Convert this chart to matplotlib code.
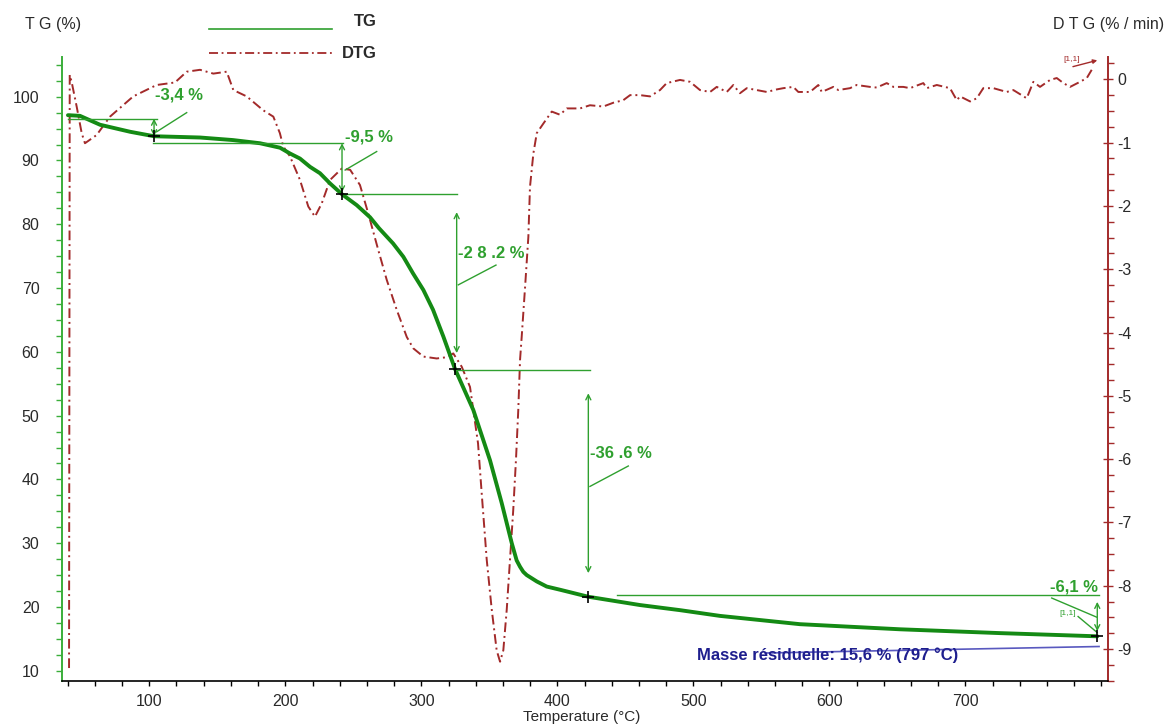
import matplotlib
matplotlib.use('Agg')
import matplotlib.pyplot as plt
from matplotlib.lines import Line2D
from matplotlib.ticker import MultipleLocator

plt.rcParams['font.family'] = ['Liberation Sans', 'DejaVu Sans']
plt.rcParams['axes.unicode_minus'] = False

# TG curve: mass (%) vs temperature (°C)
tg_temp = [40.2, 49.0, 63.8, 85.9, 103.5, 137.3, 161.5, 181.4, 196.1, 203.4,
           210.8, 218.2, 225.5, 232.9, 241.7, 252.5, 262.3, 268.8, 279.2, 286.8,
           293.9, 301.5, 308.6, 316.2, 324.8, 338.2, 350.5, 359.1, 366.5, 370.1,
           372.6, 375.0, 377.5, 381.2, 384.9, 392.2, 402.0, 422.8, 460.8, 490.2,
           519.6, 578.4, 652.0, 725.5, 797.0]
tg_mass = [97.1, 97.0, 95.6, 94.5, 93.8, 93.6, 93.2, 92.7, 92.0, 91.1,
           90.3, 89.0, 88.0, 86.4, 84.7, 83.0, 81.1, 79.4, 77.0, 74.9,
           72.3, 69.7, 66.6, 62.4, 57.3, 50.9, 43.0, 36.3, 30.0, 27.3,
           26.3, 25.5, 25.0, 24.5, 24.0, 23.2, 22.7, 21.6, 20.3, 19.5,
           18.6, 17.3, 16.5, 15.9, 15.4]

# DTG curve: rate (%/min) vs temperature (°C)
dtg_temp = [41.0, 41.5, 42.9, 46.6, 50.3, 52.7, 61.3, 71.1, 88.2, 105.4,
            118.9, 127.5, 137.3, 147.1, 156.9, 161.8, 171.6, 183.8, 191.2, 196.0,
            198.5, 203.5, 210.8, 216.9, 221.8, 226.8, 232.9, 241.5, 247.7, 254.9,
            261.0, 268.4, 274.6, 281.9, 289.3, 294.1, 301.5, 311.3, 318.7, 323.5,
            329.7, 335.8, 341.7, 344.4, 348.1, 351.8, 355.4, 357.9, 360.3, 362.8,
            365.2, 367.6, 369.6, 371.3, 372.6, 373.8, 376.3, 378.7, 379.9, 382.4,
            384.9, 389.7, 395.9, 402.0, 406.9, 416.7, 424.0, 433.8, 441.2, 448.5,
            453.5, 460.8, 468.2, 475.5, 480.4, 490.2, 497.6, 504.9, 512.3, 517.2,
            524.6, 529.4, 534.3, 539.3, 546.6, 554.0, 561.3, 566.2, 573.5, 577.2,
            585.8, 591.9, 594.4, 602.9, 606.6, 615.2, 620.1, 629.9, 634.8, 642.2,
            647.1, 654.4, 659.3, 669.1, 671.6, 679.0, 688.7, 693.7, 696.1, 703.5,
            708.4, 713.2, 720.6, 730.4, 735.3, 745.1, 750.0, 754.9, 762.3, 767.2,
            772.1, 777.0, 784.3, 789.3, 792.9]
dtg_rate = [-9.30, 0.07, -0.04, -0.43, -0.85, -1.01, -0.88, -0.59, -0.27, -0.09,
            -0.05, 0.12, 0.15, 0.09, 0.12, -0.17, -0.27, -0.49, -0.59, -0.85,
            -1.06, -1.22, -1.59, -2.01, -2.17, -1.96, -1.59, -1.41, -1.43, -1.67,
            -2.12, -2.70, -3.17, -3.64, -4.07, -4.25, -4.38, -4.41, -4.39, -4.33,
            -4.54, -4.86, -5.75, -6.54, -7.59, -8.38, -9.02, -9.20, -9.02, -8.38,
            -7.59, -6.80, -6.01, -5.22, -4.43, -4.07, -3.28, -2.49, -1.70, -1.17,
            -0.85, -0.70, -0.51, -0.56, -0.46, -0.46, -0.41, -0.43, -0.37, -0.33,
            -0.25, -0.25, -0.27, -0.17, -0.06, -0.01, -0.04, -0.17, -0.20, -0.12,
            -0.20, -0.09, -0.22, -0.14, -0.17, -0.20, -0.16, -0.14, -0.12, -0.20,
            -0.20, -0.09, -0.20, -0.12, -0.17, -0.14, -0.09, -0.12, -0.13, -0.06,
            -0.12, -0.12, -0.14, -0.06, -0.14, -0.09, -0.14, -0.33, -0.27, -0.35,
            -0.30, -0.14, -0.14, -0.20, -0.17, -0.30, -0.04, -0.12, -0.01, 0.02,
            -0.06, -0.12, -0.04, 0.02, 0.15]

# mass-loss steps
step_temp = [103.5, 241.7, 324.8, 422.8, 797.0]
step_mass = [93.8, 84.7, 57.3, 21.6, 15.4]
step_labels = ['-3,4 %', '-9,5 %', '-2 8 .2 %', '-36 .6 %', '-6,1 %']
residue_label = 'Masse résiduelle: 15,6 % (797 °C)'

tg_color = '#148a14'
ann_color = '#2fa02f'
dtg_color = '#a32a2a'
axis_green = '#3aae3a'
navy = '#1e1e8e'
txt = '#2a2a2a'

fig = plt.figure(figsize=(11.66, 7.24), dpi=100)
W, H = 1166, 724
ax = fig.add_axes([61.7 / W, 1 - 680.7 / H, (1108.3 - 61.7) / W, (680.7 - 56.7) / H])
ax2 = ax.twinx()
ax.set_zorder(2)
ax2.set_zorder(1)
ax.patch.set_visible(False)

ax.set_xlim(35.6, 805.1)
ax.set_ylim(8.44, 106.27)
ax2.set_ylim(-9.50, 0.357)

# DTG
ax2.plot(dtg_temp, dtg_rate, color=dtg_color, lw=1.4, linestyle=(0, (5, 2, 1, 2)))

# TG
ax.plot(tg_temp, tg_mass, color=tg_color, lw=2.8, solid_capstyle='round',
        solid_joinstyle='round')


def hline(x0, x1, y):
    ax.plot([x0, x1], [y, y], color=ann_color, lw=1.0)


def seg(x0, y0, x1, y1):
    ax.plot([x0, x1], [y0, y1], color=ann_color, lw=1.0)


def darrow(x, y0, y1):
    ax.annotate('', xy=(x, y1), xytext=(x, y0),
                arrowprops=dict(arrowstyle='<->', color=ann_color, lw=1.0,
                                mutation_scale=9, shrinkA=0, shrinkB=0))


afont = dict(color=ann_color, fontsize=12, fontweight='bold', va='center')

# step 1
hline(40, 106, 96.55)
darrow(step_temp[0], 96.55, step_mass[0])
seg(105.4, 94.5, 127.5, 97.5)
ax.text(104.2, 100.3, step_labels[0], ha='left', **afont)
hline(103, 242.7, 92.7)

# step 2
darrow(step_temp[1], 92.7, 85.0)
seg(244.0, 88.5, 267.2, 91.4)
ax.text(244.0, 93.7, step_labels[1], ha='left', **afont)
hline(step_temp[1], 326.0, step_mass[1])

# step 3
darrow(326.0, 81.9, 59.8)
seg(327.2, 70.5, 354.9, 73.6)
ax.text(327.2, 75.4, step_labels[2], ha='left', **afont)
hline(step_temp[2], 424.0, 57.1)

# step 4
darrow(step_temp[3], 53.5, 25.3)
seg(424.0, 38.9, 452.2, 42.1)
ax.text(424.0, 44.1, step_labels[3], ha='left', **afont)
hline(443.7, 798.5, 21.9)

# step 5
darrow(step_temp[4], 20.8, 16.2)
seg(763.5, 21.4, 796.6, 18.4)
seg(782.9, 18.5, 796.9, 16.0)
ax.text(797.6, 23.2, step_labels[4], ha='right', **afont)
ax.text(775.5, 19.0, '[1,1]', color=ann_color, fontsize=6, ha='center', va='center')

ax.plot(step_temp, step_mass, linestyle='none', marker='+', ms=9, mew=1.2, color='black', zorder=5)

# residual mass
ax.plot([552.7, 798.3], [12.78, 13.80], color='#3c3cb4', lw=1.2, alpha=0.85)
ax.text(502.6, 12.47, residue_label, color=navy, fontsize=12, fontweight='bold',
        ha='left', va='center')

# DTG end marker
ax2.text(778.1, 0.305, '[1,1]', color=dtg_color, fontsize=6, ha='center', va='center')
ax2.annotate('', xy=(797.0, 0.30), xytext=(779.1, 0.20),
             arrowprops=dict(arrowstyle='-|>', color=dtg_color, lw=1.0,
                             mutation_scale=6, shrinkA=0, shrinkB=0))

# axes styling
for s in ['top', 'right']:
    ax.spines[s].set_visible(False)
for s in ['top', 'left', 'bottom']:
    ax2.spines[s].set_visible(False)
ax.spines['left'].set_color(axis_green)
ax.spines['left'].set_linewidth(1.4)
ax.spines['bottom'].set_color('black')
ax.spines['bottom'].set_linewidth(1.2)
ax2.spines['right'].set_color(dtg_color)
ax2.spines['right'].set_linewidth(1.4)

ax.set_xticks([100, 200, 300, 400, 500, 600, 700])
ax.xaxis.set_minor_locator(MultipleLocator(20))
ax.set_yticks([10, 20, 30, 40, 50, 60, 70, 80, 90, 100])
ax.yaxis.set_minor_locator(MultipleLocator(2.5))
ax2.set_yticks([-9, -8, -7, -6, -5, -4, -3, -2, -1, 0])
ax2.yaxis.set_minor_locator(MultipleLocator(0.25))

ax.tick_params(axis='x', which='both', direction='out', length=3.5, width=1,
               color='black', labelcolor=txt, labelsize=11.5, pad=6)
ax.tick_params(axis='y', which='both', direction='out', length=4, width=1,
               color=axis_green, labelcolor=txt, labelsize=11.5, pad=12)
ax2.tick_params(axis='y', which='major', direction='inout', length=7, width=1,
                color=dtg_color, labelcolor=txt, labelsize=11.5, pad=3)
ax2.tick_params(axis='y', which='minor', direction='out', length=4, width=1,
                color=dtg_color)

# titles
fig.text(25 / W, 1 - 25 / H, 'T G (%)', color=txt, fontsize=11.5, ha='left', va='center')
fig.text(1164 / W, 1 - 25 / H, 'D T G (% / min)', color=txt, fontsize=11.5,
         ha='right', va='center')
fig.text(581.7 / W, 1 - 716.7 / H, 'Temperature (°C)', color=txt, fontsize=11,
         ha='center', va='center')

# legend
fig.add_artist(Line2D([209 / W, 332 / W], [1 - 29 / H, 1 - 29 / H],
                      transform=fig.transFigure, color=ann_color, lw=1.2))
fig.add_artist(Line2D([209 / W, 332 / W], [1 - 53 / H, 1 - 53 / H],
                      transform=fig.transFigure, color=dtg_color, lw=1.3,
                      linestyle=(0, (5, 2, 1, 2))))
fig.text(377 / W, 1 - 21.7 / H, 'TG', color=txt, fontsize=12, fontweight='bold',
         ha='right', va='center')
fig.text(377 / W, 1 - 54 / H, 'DTG', color=txt, fontsize=12, fontweight='bold',
         ha='right', va='center')

fig.savefig('out.png', dpi=100, facecolor='white')
